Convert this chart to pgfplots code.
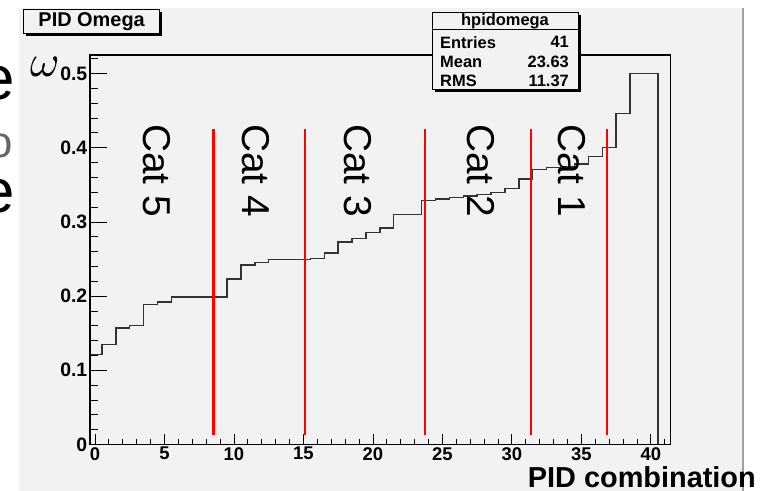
\documentclass[border=0pt]{standalone}
\usepackage{fontspec}
\setmainfont{Liberation Sans}
\usepackage{pgfplots}
\pgfplotsset{compat=1.18}
\definecolor{canvas}{RGB}{242,242,242}
\definecolor{edgegray}{RGB}{160,160,160}

\begin{document}
\begin{tikzpicture}[x=1bp,y=1bp]
\useasboundingbox (-90,-46.5) rectangle (672,444.5);
\fill[white] (-90,-46.5) rectangle (672,444.5);
\fill[canvas] (-71,-46.5) rectangle (653,436.5);
\draw[edgegray, line width=1.5bp] (653,436.5) -- (653,-46.5);

% bits of slide text cut off at the left
\node[anchor=base east, inner sep=0, font=\fontsize{62}{62}\selectfont] at (-74.5,344.5) {e};
\node[anchor=base east, inner sep=0, text=black!60, font=\fontsize{44}{44}\selectfont] at (-77,287) {o};
\node[anchor=base east, inner sep=0, font=\fontsize{62}{62}\selectfont] at (-74.5,231.5) {e};

\begin{axis}[
    at={(0,0)}, anchor=south west,
    width=580.3bp, height=389.5bp, scale only axis,
    xmin=-0.36, xmax=41.4, ymin=0, ymax=0.525,
    axis line style={black, line width=1.1bp},
    tick align=inside, tick pos=left,
    xtick={0,5,...,40},
    minor xtick={0,...,41},
    ytick=\empty,
    major tick length=10bp, minor tick length=5.5bp,
    tick style={black, line width=0.8bp},
    /pgf/number format/assume math mode=true,
    xticklabel style={font=\bfseries\fontsize{18.5}{18.5}\selectfont, inner sep=2.5bp},
]
\addplot[const plot, black!80, line width=1.4bp, mark=none] coordinates {
    (-0.5,0) (-0.5,0.121) (0.5,0.135) (1.5,0.157) (2.5,0.160) (3.5,0.189)
    (4.5,0.192) (5.5,0.199) (6.5,0.199) (7.5,0.199) (8.5,0.199) (9.5,0.223)
    (10.5,0.242) (11.5,0.245) (12.5,0.249) (13.5,0.249) (14.5,0.249)
    (15.5,0.251) (16.5,0.258) (17.5,0.273) (18.5,0.278) (19.5,0.286)
    (20.5,0.292) (21.5,0.310) (22.5,0.310) (23.5,0.329) (24.5,0.331)
    (25.5,0.333) (26.5,0.335) (27.5,0.337) (28.5,0.340) (29.5,0.345)
    (30.5,0.358) (31.5,0.371) (32.5,0.373) (33.5,0.375) (34.5,0.378)
    (35.5,0.388) (36.5,0.400) (37.5,0.446) (38.5,0.500) (39.5,0.500)
    (40.5,0.500) (40.5,0)
};
% category boundaries
\addplot[red, line width=2.2bp] coordinates {(8.53,0.013) (8.53,0.425)};
\addplot[red, line width=2.2bp] coordinates {(15.09,0.013) (15.09,0.425)};
\addplot[red, line width=2.2bp] coordinates {(23.73,0.013) (23.73,0.425)};
\addplot[red, line width=2.2bp] coordinates {(31.4,0.013) (31.4,0.425)};
\addplot[red, line width=2.2bp] coordinates {(36.85,0.013) (36.85,0.425)};

\node[rotate=-90, anchor=west, inner sep=0, font=\fontsize{39}{39}\selectfont] at (axis cs:4.44,0.432) {Cat 5};
\node[rotate=-90, anchor=west, inner sep=0, font=\fontsize{39}{39}\selectfont] at (axis cs:11.6,0.432) {Cat 4};
\node[rotate=-90, anchor=west, inner sep=0, font=\fontsize{39}{39}\selectfont] at (axis cs:18.9,0.432) {Cat 3};
\node[rotate=-90, anchor=west, inner sep=0, font=\fontsize{39}{39}\selectfont] at (axis cs:27.8,0.432) {Cat 2};
\node[rotate=-90, anchor=west, inner sep=0, font=\fontsize{39}{39}\selectfont] at (axis cs:34.3,0.432) {Cat 1};
\end{axis}

% y ticks are longer than x ticks in ROOT, so a second axis holds them
\begin{axis}[
    at={(0,0)}, anchor=south west,
    width=580.3bp, height=389.5bp, scale only axis,
    xmin=-0.36, xmax=41.4, ymin=0, ymax=0.525,
    axis line style={draw=none},
    tick align=inside, tick pos=left,
    xtick=\empty,
    ytick={0,0.1,0.2,0.3,0.4,0.5},
    minor ytick={0.02,0.04,0.06,0.08,0.12,0.14,0.16,0.18,0.22,0.24,0.26,0.28,
                 0.32,0.34,0.36,0.38,0.42,0.44,0.46,0.48,0.52},
    major tick length=16.7bp, minor tick length=8.3bp,
    tick style={black, line width=0.8bp},
    /pgf/number format/assume math mode=true,
    yticklabel style={font=\bfseries\fontsize{19.5}{19.5}\selectfont, inner sep=2.5bp,
        /pgf/number format/fixed, /pgf/number format/precision=1},
]
\end{axis}

\node[scale=4.5, inner sep=0] at (-45,377.8) {$\omega$};

% title box
\fill[black] (-63.5,408.7) rectangle (71.8,432.7);
\filldraw[fill=canvas, draw=black, line width=1bp] (-66,411.2) rectangle (69.3,435.2);
\node[font=\bfseries\fontsize{20}{20}\selectfont, inner sep=0] at (1.65,423.2) {PID Omega};

% stats box
\fill[black] (344.8,352) rectangle (490.8,429.7);
\filldraw[fill=canvas, draw=black, line width=1bp] (342.3,354.5) rectangle (488.3,432.2);
\draw[black, line width=1bp] (342.3,415.2) -- (488.3,415.2);
\node[font=\bfseries\fontsize{16.5}{16.5}\selectfont, inner sep=0] at (415,423.5) {hpidomega};
\node[font=\bfseries\fontsize{16.5}{16.5}\selectfont, inner sep=0, anchor=west] at (350,402.2) {Entries};
\node[font=\bfseries\fontsize{16.5}{16.5}\selectfont, inner sep=0, anchor=east] at (479,402.2) {41};
\node[font=\bfseries\fontsize{16.5}{16.5}\selectfont, inner sep=0, anchor=west] at (350,382.8) {Mean};
\node[font=\bfseries\fontsize{16.5}{16.5}\selectfont, inner sep=0, anchor=east] at (479,382.8) {23.63};
\node[font=\bfseries\fontsize{16.5}{16.5}\selectfont, inner sep=0, anchor=west] at (350,363.8) {RMS};
\node[font=\bfseries\fontsize{16.5}{16.5}\selectfont, inner sep=0, anchor=east] at (479,363.8) {11.37};

\node[anchor=base east, inner sep=0, font=\bfseries\fontsize{29}{29}\selectfont] at (666,-43) {PID combination};
\end{tikzpicture}
\end{document}
